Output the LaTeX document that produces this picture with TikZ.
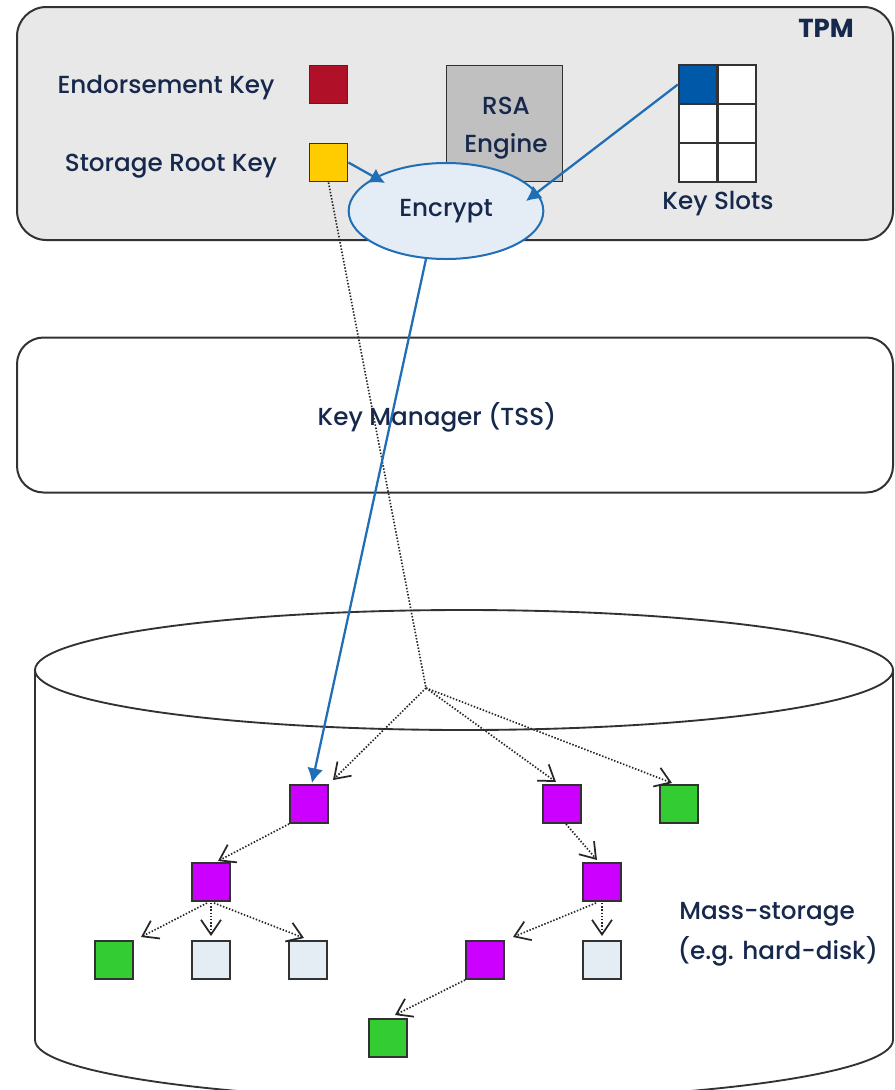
\documentclass[tikz,border=0pt]{standalone}
\usepackage{fontspec}
\setmainfont{Poppins}
\newfontfamily\lblfont{Poppins Medium}
\usetikzlibrary{arrows.meta,shapes.geometric,calc}
\definecolor{txt}{RGB}{22,40,76}
\definecolor{ekred}{RGB}{176,16,40}
\definecolor{srkyel}{RGB}{255,204,0}
\definecolor{rsagray}{RGB}{192,192,192}
\definecolor{slotblue}{RGB}{0,88,168}
\definecolor{encfill}{RGB}{228,236,245}
\definecolor{arrblue}{RGB}{31,110,182}
\definecolor{purp}{RGB}{204,0,255}
\definecolor{grn}{RGB}{51,204,51}
\definecolor{lite}{RGB}{228,236,244}
\definecolor{tpmfill}{RGB}{232,232,232}
\definecolor{edge}{RGB}{50,50,50}
\tikzset{
  lbl/.style={text=txt, font=\lblfont\fontsize{18.5}{22}\selectfont, inner sep=0pt},
  sqbox/.style={draw=edge, line width=1.4pt, minimum size=28.5pt, inner sep=0pt},
  cell/.style={draw=edge, line width=1.4pt, minimum width=28.8pt, minimum height=28.8pt, inner sep=0pt, fill=white},
  bluearr/.style={draw=arrblue, line width=1.7pt, -{Latex[length=11pt,width=12pt]}},
  ptr/.style={draw=black!85, line width=1.25pt, dash pattern=on 1.1pt off 1.3pt, -{Straight Barb[length=11pt,width=15pt,line width=1.3pt]}},
  dotl/.style={draw=black!85, line width=1.25pt, dash pattern=on 1.1pt off 1.3pt},
}
\begin{document}
\begin{tikzpicture}[x=0.75pt,y=-0.75pt]
\useasboundingbox (0,0) rectangle (895,1090);
% TPM box
\node[draw=edge, line width=1.5pt, fill=tpmfill, rounded corners=22pt, minimum width=657pt, minimum height=174.75pt, inner sep=0] (tpm) at (455,123.5) {};
\node[lbl, font=\bfseries\fontsize{19.5}{22}\selectfont] (tpml) at (826,28) {TPM};
\node[lbl] (ekl) at (166,88) {Endorsement Key};
\node[lbl] (srkl) at (171,166) {Storage Root Key};
\node[sqbox, fill=ekred] (ek) at (328.5,84.5) {};
\node[sqbox, fill=srkyel] (srk) at (328.5,162.5) {};
% RSA engine
\node[draw=edge, line width=1.4pt, fill=rsagray, minimum width=87pt, minimum height=87pt, inner sep=0] (rsa) at (504.5,123.5) {};
\node[lbl] (rsa1) at (506,106) {RSA};
\node[lbl] (rsa2) at (506,146) {Engine};
% key slots
\node[cell, fill=slotblue] (k11) at (698,84.5) {};
\node[cell] (k12) at (737,84.5) {};
\node[cell] (k21) at (698,123.5) {};
\node[cell] (k22) at (737,123.5) {};
\node[cell] (k31) at (698,162.5) {};
\node[cell] (k32) at (737,162.5) {};
\node[lbl] (ksl) at (718,204) {Key Slots};
% Encrypt
\node[ellipse, draw=arrblue, line width=1.5pt, fill=encfill, minimum width=146pt, minimum height=72pt, inner sep=0, lbl] (enc) at (446,211) {Encrypt};
\draw[bluearr] (srk.east) -- ($(enc.center)+(-61,-28)$);
\draw[bluearr] (k11.west) -- ($(enc.center)+(80,-10)$);
% Key manager
\node[draw=edge, line width=1.5pt, fill=white, rounded corners=20pt, minimum width=657pt, minimum height=116.25pt, inner sep=0] (km) at (455,415) {};
\node[lbl] (kml) at (437,417) {Key Manager (TSS)};
% cylinder
\draw[edge, line width=1.4pt] (464,670) ellipse [x radius=429, y radius=60];
\draw[edge, line width=1.4pt] (35,670) -- (35,1040) arc[start angle=180, end angle=0, x radius=429, y radius=60] -- (893,670);
\node[lbl] (ms1) at (767,914) {Mass-storage};
\node[lbl] (ms2) at (778,951) {(e.g. hard-disk)};
% tree squares
\node[sqbox, fill=purp] (p1) at (309,804) {};
\node[sqbox, fill=purp] (p2) at (562,804) {};
\node[sqbox, fill=grn] (g1) at (679,804) {};
\node[sqbox, fill=purp] (p3) at (211,882) {};
\node[sqbox, fill=purp] (p4) at (602,882) {};
\node[sqbox, fill=grn] (g2) at (114,960) {};
\node[sqbox, fill=lite] (l1) at (211,960) {};
\node[sqbox, fill=lite] (l2) at (308,960) {};
\node[sqbox, fill=purp] (p5) at (485,960) {};
\node[sqbox, fill=lite] (l3) at (602,960) {};
\node[sqbox, fill=grn] (g3) at (388,1038) {};
\coordinate (j) at (426,688);
% dotted pointers
\draw[dotl] (srk.south) -- (j);
\draw[ptr] (j) -- ($(p1.center)+(24,-24)$);
\draw[ptr] (j) -- ($(p2.center)+(-6,-22)$);
\draw[ptr] (j) -- ($(g1.center)+(-7,-21)$);
\draw[ptr] (p1.south west) -- ($(p3.center)+(7,-21)$);
\draw[ptr] ($(p3.center)+(-4,21)$) -- ($(g2.center)+(27,-23)$);
\draw[ptr] ($(p3.center)+(0,21)$) -- ($(l1.center)+(0,-24)$);
\draw[ptr] ($(p3.center)+(3,21)$) -- ($(l2.center)+(-4,-22)$);
\draw[ptr] ($(p2.center)+(4,20)$) -- ($(p4.center)+(-5,-22)$);
\draw[ptr] ($(p4.center)+(-6,21)$) -- ($(p5.center)+(28,-23)$);
\draw[ptr] ($(p4.center)+(0,21)$) -- ($(l3.center)+(0,-24)$);
\draw[ptr] (p5.south west) -- ($(g3.center)+(7,-23)$);
% blue pointer to storage
\draw[bluearr] ($(enc.center)+(-20,48)$) -- ($(p1.center)+(3,-21)$);
\end{tikzpicture}
\end{document}
